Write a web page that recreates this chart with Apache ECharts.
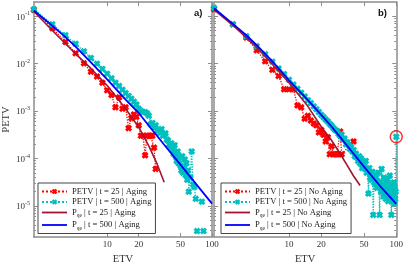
<!DOCTYPE html>
<html><head><meta charset="utf-8">
<script src="https://cdn.jsdelivr.net/npm/echarts@6/dist/echarts.min.js"></script>
<style>html,body{margin:0;padding:0;background:#fff}#c{width:406px;height:270px}</style>
</head><body><div id="c"></div>
<script>
// ---------- data ----------
// null = no observation (gap in the dotted line)
// Panel a) Aging
const etv25A  = [2,3,4,5,6,7,8,9,10,11,12,13,14,15,16,17,18,19,20,21,22,23,24,25,26,27,28,29];
const petv25A = [0.135,0.0562,0.0288,0.0166,0.0102,0.00676,0.00537,0.00398,0.00275,0.00219,0.0012,0.00195,0.00112,0.0012,4.37e-4,7.08e-4,8.51e-4,7.59e-4,5.01e-4,3.02e-4,3.02e-4,1.17e-4,3.02e-4,3.02e-4,3.02e-4,3.02e-4,1.7e-4,6.03e-5];

const etv500A  = [2,3,4,5,6,7,8,9,10,11,12,13,14,15,16,17,18,19,20,21,22,23,24,25,26,27,28,29,30,31,32,33,34,35,36,37,38,39,40,41,42,43,44,45,46,47,48,49,50,51,52,53,54,55,56,57,58,59,60,62,64,66,68,70,71,72,73,80,81,83];
const petv500A = [0.141,0.0676,0.0398,0.0263,0.0182,0.0132,0.01,0.00776,0.00617,0.0049,0.00398,0.00339,0.00282,0.0024,0.00209,0.00182,0.00158,0.00138,0.00112,0.001,9.55e-4,9.55e-4,8.91e-4,7.94e-4,5.25e-4,5.62e-4,4.47e-4,5.01e-4,3.8e-4,3.98e-4,3.47e-4,4.17e-4,3.02e-4,3.16e-4,3.39e-4,2.51e-4,2.4e-4,2.0e-4,1.78e-4,2.09e-4,1.51e-4,1.26e-4,1.91e-4,1.12e-4,8.91e-5,1.41e-4,7.94e-5,1.05e-4,7.08e-5,5.62e-5,1.12e-4,5.01e-5,6.31e-5,9.55e-5,4.47e-5,7.94e-5,3.55e-5,5.62e-5,2.0e-5,3.98e-5,1.41e-4,2.82e-5,2.51e-5,1.41e-5,null,2.95e-6,null,1.23e-5,null,2.95e-6];

const qeEtv25A = [2,3,4,5,7,10,15,20,25,30,35];
const qe25A    = [0.126,0.0501,0.0263,0.0162,0.00794,0.00347,0.00112,4.57e-4,1.82e-4,7.59e-5,3.16e-5];
const qeEtv500A = [2,3,4,5,7,10,15,20,25,35,50,70,100];
const qe500A    = [0.132,0.0631,0.0363,0.0229,0.0107,0.00468,0.00174,9.12e-4,4.9e-4,1.95e-4,7.41e-5,2.95e-5,1.12e-5];

// Panel b) No Aging
const etv25N  = [2,3,4,5,6,7,8,9,10,11,12,13,14,15,16,17,18,19,20,21,22,23,24,25,26,27,28,29,30,31,40];
const petv25N = [0.141,0.0676,0.0355,0.0191,0.0112,0.00741,0.0055,0.00288,0.00288,0.00288,0.00132,0.0012,6.92e-4,7.94e-4,6.31e-4,5.5e-4,5.01e-4,3.55e-4,3.98e-4,3.16e-4,2.29e-4,2.82e-4,1.23e-4,1.82e-4,1.23e-4,1.23e-4,1.23e-4,1.23e-4,3.72e-4,1.23e-4,2.29e-4];

const etv500N  = [2,3,4,5,6,7,8,9,10,11,12,13,14,15,16,17,18,19,20,21,22,23,24,25,26,27,28,29,30,31,32,33,34,35,36,37,38,39,40,41,42,43,44,45,46,47,48,49,50,51,52,53,54,55,56,57,58,59,60,61,62,63,64,65,66,67,68,69,70,71,72,73,74,75,76,77,78,79,80,81,82,83,84,85,86,87,88,89,90,91,92,93,94,95,96,97,98,99,100];
const petv500N = [0.151,0.0676,0.038,0.0234,0.0158,0.011,0.00794,0.00603,0.00457,0.00363,0.00295,0.00245,0.00204,0.0017,0.00148,0.00126,0.0011,9.55e-4,8.32e-4,7.41e-4,6.61e-4,6.03e-4,5.37e-4,4.9e-4,4.37e-4,3.98e-4,3.8e-4,3.31e-4,3.02e-4,3.16e-4,2.51e-4,2.63e-4,2.0e-4,2.19e-4,1.91e-4,1.58e-4,1.74e-4,1.41e-4,1.51e-4,1.12e-4,1.26e-4,1.05e-4,8.91e-5,1.12e-4,7.94e-5,1.0e-4,6.31e-5,8.32e-5,7.08e-5,6.03e-5,8.91e-5,5.01e-5,5.62e-5,1.82e-5,6.31e-5,3.98e-5,4.79e-5,3.55e-5,5.25e-5,6.46e-6,3.16e-5,4.47e-5,2.82e-5,3.98e-5,2.4e-5,3.31e-5,5.01e-5,2.51e-5,6.46e-6,3.16e-5,2.0e-5,6.03e-5,2.24e-5,2.82e-5,1.58e-5,3.98e-5,1.78e-5,2.51e-5,1.41e-5,3.16e-5,2.0e-5,3.55e-5,1.26e-5,2.51e-5,1.78e-5,4.37e-5,1.41e-5,2.0e-5,6.46e-6,2.82e-5,1.26e-5,2.24e-5,1.58e-5,3.16e-5,1.12e-5,2.51e-5,1.41e-5,2.0e-5,2.88e-4];

const qeEtv25N = [2,3,4,5,7,10,15,20,25,30,35,40,46];
const qe25N    = [0.138,0.0646,0.0355,0.0219,0.00977,0.00398,0.00126,4.68e-4,2.4e-4,1.26e-4,7.08e-5,4.27e-5,2.69e-5];
const qeEtv500N = [2,3,4,5,7,10,15,20,25,30,40,50,70,100];
const qe500N    = [0.148,0.0692,0.0398,0.0245,0.0112,0.00447,0.0017,8.32e-4,4.68e-4,2.82e-4,1.26e-4,6.76e-5,2.69e-5,1.1e-5];

// highlighted outlier (red circle)
const outlierEtv = [100];
const outlierP   = [2.88e-4];

// ticks
const xTickValues = [10, 20, 50, 100];
const yTickValues = [1e-5, 1e-4, 1e-3, 1e-2, 1e-1];
const yTickExp    = ['-5', '-4', '-3', '-2', '-1'];
const yMinorMant  = [2, 3, 4, 5, 6, 7, 8, 9];
const yMinorDec   = [1e-6, 1e-5, 1e-4, 1e-3, 1e-2, 1e-1];

const names = {
  a: ['PETV | t = 25 | Aging', 'PETV | t = 500 | Aging', 'P_qe | t = 25 | Aging', 'P_qe | t = 500 | Aging'],
  b: ['PETV | t = 25 | No Aging', 'PETV | t = 500 | No Aging', 'P_qe | t = 25 | No Aging', 'P_qe | t = 500 | No Aging']
};

// ---------- chart ----------
const FONT = 'Liberation Serif';
const AX = '#8c8c8c';
const RED = '#ff0000', CYAN = '#00bfbf', MAROON = '#a2142f', BLUE = '#0000ff';
const X_MIN = 2, X_MAX = 100, Y_MIN = 2.2e-6, Y_MAX = 0.2;

const yMinorTicks = [];
yMinorDec.forEach(d => yMinorMant.forEach(m => {
  const v = +(m * d).toPrecision(3);
  if (v > Y_MIN && v < Y_MAX) yMinorTicks.push(v);
}));

const pairs = (xs, ys) => xs.map((x, i) => [x, ys[i] == null ? '-' : ys[i]]);
const xMark = 'path://M0,3L3,0L5,2L7,0L10,3L8,5L10,7L7,10L5,8L3,10L0,7L2,5Z';
const lineIcon = 'path://M0,0H25V1.8H0Z';

const chart = echarts.init(document.getElementById('c'), null, {renderer: 'canvas'});

const grids = [
  {left: 31, top: 2, width: 181, height: 241},
  {left: 214, top: 2, width: 184, height: 241}
];

const xAxes = [], yAxes = [];
[0, 1].forEach(g => {
  ['bottom', 'top'].forEach(pos => {
    const bottom = pos === 'bottom';
    xAxes.push({
      type: 'log', logBase: 10, gridIndex: g, position: pos, min: X_MIN, max: X_MAX,
      axisLine: {show: true, onZero: false, lineStyle: {color: AX, width: 1.5}},
      axisTick: {show: true, inside: true, length: 4, customValues: xTickValues, lineStyle: {color: AX, width: 1}},
      axisLabel: {show: bottom, customValues: xTickValues, margin: 3, color: '#333', fontFamily: FONT, fontSize: 9},
      splitLine: {show: false}, minorTick: {show: false},
      name: bottom ? 'ETV' : '', nameLocation: 'middle', nameGap: 13,
      nameTextStyle: {color: '#333', fontFamily: FONT, fontSize: 10.5}
    });
  });
  ['left', 'right'].forEach(pos => {
    const showLab = g === 0 && pos === 'left';
    yAxes.push({
      type: 'log', logBase: 10, gridIndex: g, position: pos, min: Y_MIN, max: Y_MAX,
      axisLine: {show: true, onZero: false, lineStyle: {color: AX, width: 1.5}},
      axisTick: {show: true, inside: true, length: 4, customValues: yTickValues, lineStyle: {color: AX, width: 1}},
      axisLabel: {
        show: showLab, customValues: yTickValues, margin: 4, color: '#333', fontFamily: FONT, fontSize: 9,
        formatter: v => {
          const e = Math.round(Math.log10(v));
          const i = yTickValues.findIndex(t => Math.round(Math.log10(t)) === e);
          return '{b|10}{s|' + yTickExp[i] + '}';
        },
        rich: {
          b: {fontFamily: FONT, fontSize: 9, color: '#333', verticalAlign: 'bottom'},
          s: {fontFamily: FONT, fontSize: 6, color: '#333', verticalAlign: 'bottom', padding: [0, 0, 5, 0]}
        }
      },
      splitLine: {show: false}, minorTick: {show: false},
      name: showLab ? 'PETV' : '', nameLocation: 'middle', nameGap: 20, nameRotate: 90,
      nameTextStyle: {color: '#333', fontFamily: FONT, fontSize: 10.5}
    });
    yAxes.push({
      type: 'log', logBase: 10, gridIndex: g, position: pos, min: Y_MIN, max: Y_MAX,
      axisLine: {show: false},
      axisTick: {show: true, inside: true, length: 2, customValues: yMinorTicks, lineStyle: {color: AX, width: 1}},
      axisLabel: {show: false}, splitLine: {show: false}, minorTick: {show: false}
    });
  });
});

function dotted(name, xi, yi, xs, ys, color) {
  return {
    type: 'line', name, xAxisIndex: xi, yAxisIndex: yi, data: pairs(xs, ys),
    symbol: xMark, symbolSize: 7, showSymbol: true, clip: false, connectNulls: false,
    lineStyle: {color, width: 1.3, type: 'dotted'}, itemStyle: {color},
    emphasis: {disabled: true}, animation: false, z: 2
  };
}
function solid(name, xi, yi, xs, ys, color, w) {
  return {
    type: 'line', name, xAxisIndex: xi, yAxisIndex: yi, data: pairs(xs, ys),
    symbol: 'none', clip: false, lineStyle: {color, width: w}, itemStyle: {color},
    emphasis: {disabled: true}, animation: false, z: 3
  };
}

const series = [
  dotted(names.a[0], 0, 0, etv25A, petv25A, RED),
  dotted(names.a[1], 0, 0, etv500A, petv500A, CYAN),
  solid(names.a[2], 0, 0, qeEtv25A, qe25A, MAROON, 1.6),
  solid(names.a[3], 0, 0, qeEtv500A, qe500A, BLUE, 1.8),
  dotted(names.b[0], 2, 4, etv25N, petv25N, RED),
  dotted(names.b[1], 2, 4, etv500N, petv500N, CYAN),
  solid(names.b[2], 2, 4, qeEtv25N, qe25N, MAROON, 1.6),
  solid(names.b[3], 2, 4, qeEtv500N, qe500N, BLUE, 1.8),
  {
    type: 'scatter', name: 'outlier', xAxisIndex: 2, yAxisIndex: 4, data: pairs(outlierEtv, outlierP),
    symbol: 'circle', symbolSize: 12, clip: false, silent: true, animation: false, z: 5,
    itemStyle: {color: 'rgba(0,0,0,0)', borderColor: RED, borderWidth: 1.5}
  }
];

function legendFor(list, left) {
  return {
    data: list.map(nm => nm.indexOf('P_qe') === 0 ? {name: nm, icon: lineIcon} : {name: nm}),
    left, top: 183, orient: 'vertical', itemGap: 1.5, itemWidth: 25, itemHeight: 7,
    symbolKeepAspect: true,
    padding: [4, 4, 2, 3], backgroundColor: '#fff', borderColor: '#444', borderWidth: 1, borderRadius: 0,
    selectedMode: false,
    textStyle: {fontFamily: FONT, fontSize: 8.6, color: '#222',
      rich: {
        n: {fontFamily: FONT, fontSize: 8.6, color: '#222'},
        sub: {fontFamily: FONT, fontSize: 5.5, color: '#222', verticalAlign: 'top', padding: [7, 0, 0, 0]}
      }
    },
    formatter: nm => nm.indexOf('P_qe') === 0 ? '{n|P}{sub|qe}{n|' + nm.slice(4) + '}' : nm
  };
}

chart.setOption({
  animation: false,
  backgroundColor: '#fff',
  grid: grids,
  xAxis: xAxes,
  yAxis: yAxes,
  legend: [legendFor(names.a, 38), legendFor(names.b, 221)],
  series,
  graphic: [
    {type: 'text', left: 194, top: 8, style: {text: 'a)', font: 'bold 9.5px "Liberation Sans"', fill: '#111'}},
    {type: 'text', left: 378, top: 8, style: {text: 'b)', font: 'bold 9.5px "Liberation Sans"', fill: '#111'}}
  ]
});
</script></body></html>
